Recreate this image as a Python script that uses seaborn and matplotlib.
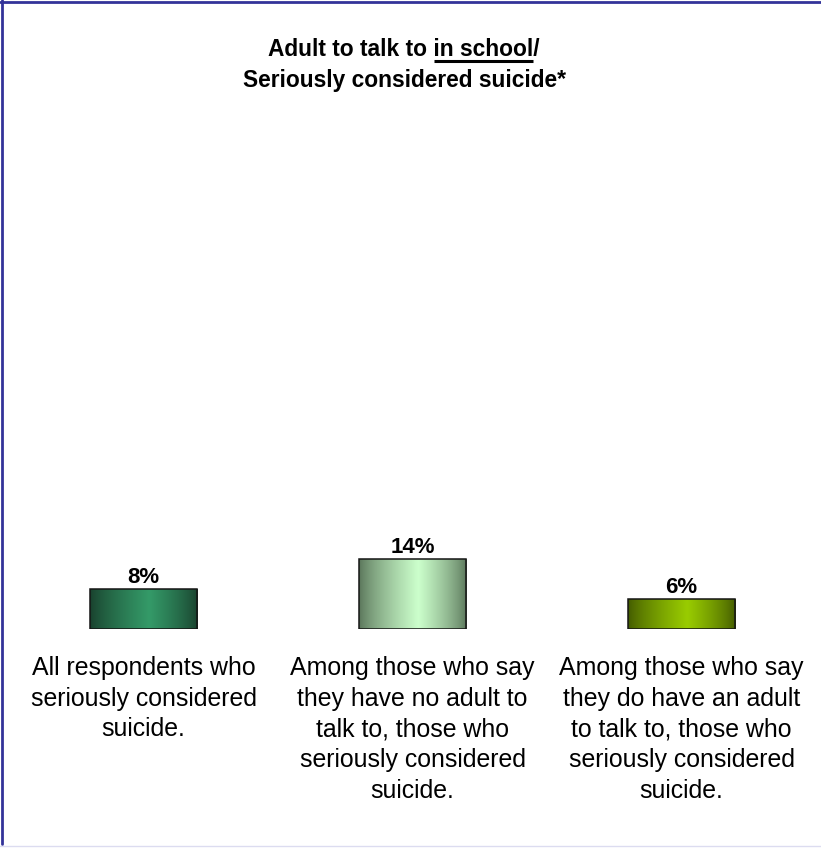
import matplotlib
matplotlib.use("Agg")
import matplotlib.pyplot as plt
from matplotlib.colors import LinearSegmentedColormap
from matplotlib.lines import Line2D
import numpy as np
import pandas as pd
import seaborn as sns

# ─── Dados ──────────────────────────────────────────────────────────────
categories = [
    "All respondents who\nseriously considered\nsuicide.",
    "Among those who say\nthey have no adult to\ntalk to, those who\nseriously considered\nsuicide.",
    "Among those who say\nthey do have an adult\nto talk to, those who\nseriously considered\nsuicide.",
]
values = [8, 14, 6]
value_labels = ["8%", "14%", "6%"]
edge_colors = ["#183f2c", "#587358", "#415800"]
center_colors = ["#349a68", "#ccffcc", "#99cc00"]

title_pre = "Adult to talk to "
title_ul = "in school"
title_post = "/"
title_line2 = "Seriously considered suicide*"

sns.set_theme(style="white")
plt.rcParams["font.family"] = ["Liberation Sans", "DejaVu Sans"]

W, H = 821, 849
fig = plt.figure(figsize=(W / 100, H / 100), dpi=100)
fig.patch.set_facecolor("white")
ax = fig.add_axes([9 / W, 220 / H, 807 / W, 500 / H])

df = pd.DataFrame({"cat": categories, "val": values})
sns.barplot(data=df, x="cat", y="val", ax=ax, width=0.4, color="white",
            edgecolor="#151515", linewidth=1.1, saturation=1)

# gradiente horizontal em cada barra (escuro nas bordas, claro no meio)
t = np.linspace(0, 1, 256)
peak = 0.55
prof = np.where(t < peak, t / peak, (1 - t) / (1 - peak)) ** 0.75
grad = np.tile(prof, (2, 1))
for p, ec, cc in zip(ax.patches, edge_colors, center_colors):
    cmap = LinearSegmentedColormap.from_list("g", [ec, cc])
    x0, w, h = p.get_x(), p.get_width(), p.get_height()
    im = ax.imshow(grad, extent=[x0, x0 + w, 0, h], aspect="auto",
                   cmap=cmap, vmin=0, vmax=1, zorder=0.5, origin="lower")
    im.set_clip_path(p)
    p.set_facecolor("none")
    p.set_zorder(1)

ax.set_xlim(-0.5, 2.5)
ax.set_ylim(0, 100)
ax.set_xlabel("")
ax.set_ylabel("")
ax.set_yticks([])
ax.tick_params(axis="x", length=0, pad=19.5, labelsize=17.9, colors="black")
for lab in ax.get_xticklabels():
    lab.set_linespacing(1.35)
for s in ax.spines.values():
    s.set_visible(False)
ax.set_facecolor("none")

ax.bar_label(ax.containers[0], labels=value_labels, padding=1,
             fontsize=16, fontweight="bold", color="black")

# título com "in school" sublinhado
tx, ty1, ty2 = 404 / W, 1 - 56 / H, 1 - 87 / H
full = title_pre + title_ul + title_post
tprops = dict(fontsize=16.4, fontweight="bold", color="black", va="baseline")
t1 = fig.text(tx, ty1, full, ha="center", **tprops)
fig.text(tx, ty2, title_line2, ha="center", **tprops)

fig.canvas.draw()
r = fig.canvas.get_renderer()
bb = t1.get_window_extent(r)
tmp_a = fig.text(0, 0, title_pre + title_ul, **tprops)
tmp_b = fig.text(0, 0, title_ul, **tprops)
wa = tmp_a.get_window_extent(r).width
wb = tmp_b.get_window_extent(r).width
tmp_a.remove(); tmp_b.remove()
ux1 = (bb.x0 + wa) / W
ux0 = ux1 - wb / W
uy = 1 - 60.5 / H
fig.add_artist(Line2D([ux0, ux1], [uy, uy], transform=fig.transFigure,
                      color="black", lw=2.2, solid_capstyle="butt"))

# moldura
fig.add_artist(Line2D([1.5 / W, 1.5 / W], [1 - 844 / H, 1], transform=fig.transFigure,
                      color="#333399", lw=2))
fig.add_artist(Line2D([0, 1], [1 - 1.5 / H, 1 - 1.5 / H], transform=fig.transFigure,
                      color="#333399", lw=2))
fig.add_artist(Line2D([0, 1], [1 - 846 / H, 1 - 846 / H], transform=fig.transFigure,
                      color="#dcdcf0", lw=1))

fig.savefig("out.png", dpi=100)
plt.close()
